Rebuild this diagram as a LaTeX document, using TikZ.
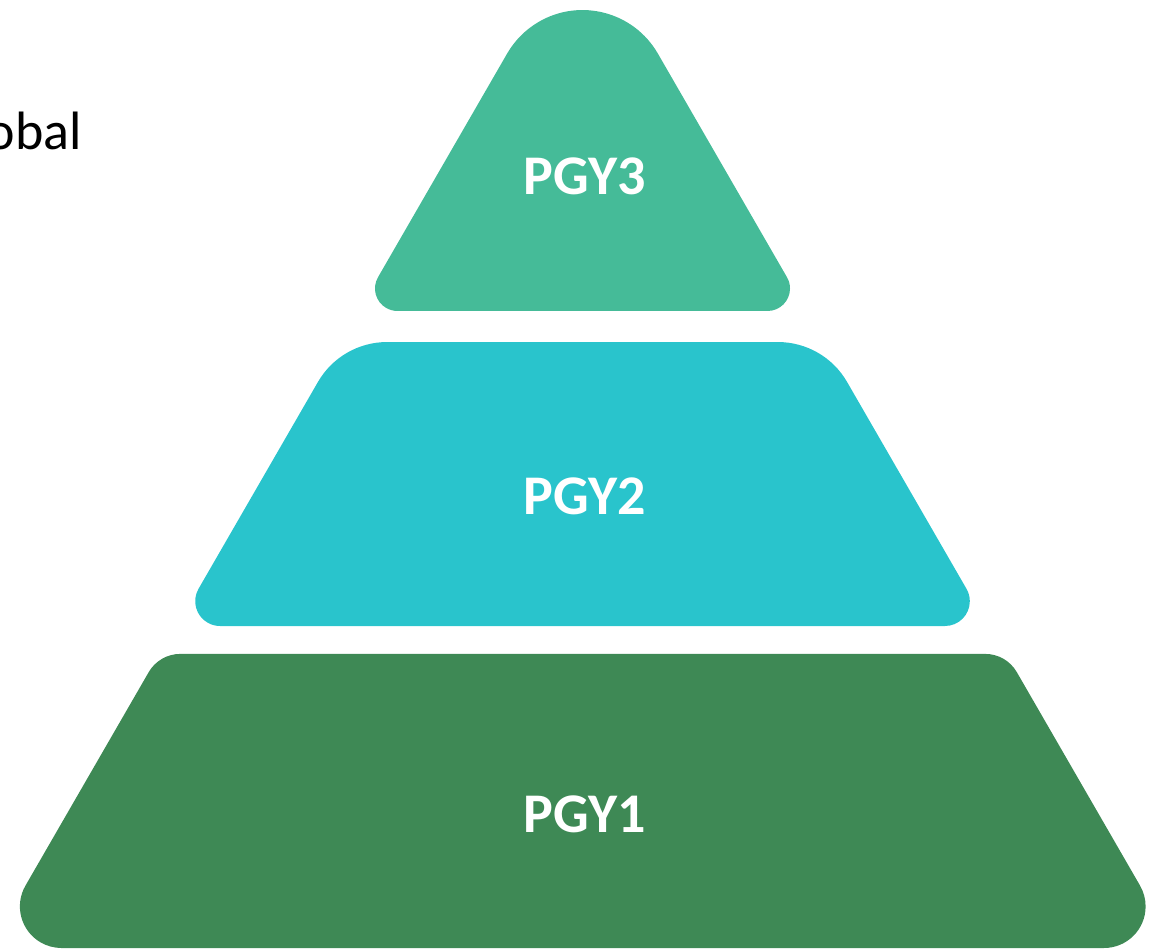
\documentclass[tikz,border=0pt]{standalone}
\usepackage{fontspec}
\setmainfont{Carlito}
\usetikzlibrary{positioning}
\definecolor{tierone}{RGB}{62,137,85}
\definecolor{tiertwo}{RGB}{41,196,204}
\definecolor{tierthree}{RGB}{69,187,152}
\tikzset{tierlabel/.style={text=white,font=\fontsize{56}{60}\selectfont\bfseries,anchor=base,inner sep=0pt}}

\begin{document}
\begin{tikzpicture}[x=1pt,y=1pt]
    \useasboundingbox (0,0) rectangle (1153,951);
    % top tier
    \fill[tierthree] (397.5,640) -- ++(370,0) arc[start angle=-90,end angle=30,radius=22.5]
        -- ++(120:258.3) arc[start angle=30,end angle=150,radius=87]
        -- ++(240:258.3) arc[start angle=150,end angle=270,radius=22.5] -- cycle;
    % middle tier
    \fill[tiertwo] (220,325) -- ++(725,0) arc[start angle=-90,end angle=30,radius=24.8]
        -- ++(120:238.9) arc[start angle=30,end angle=90,radius=79.7] -- ++(-391,0)
        arc[start angle=90,end angle=150,radius=79.7]
        -- ++(240:238.9) arc[start angle=150,end angle=270,radius=24.8] -- cycle;
    % bottom tier
    \fill[tierone] (61,3) -- ++(1043,0) arc[start angle=-90,end angle=30,radius=41.6]
        -- ++(120:246.5) arc[start angle=30,end angle=90,radius=36.4] -- ++(-805,0)
        arc[start angle=90,end angle=150,radius=36.4]
        -- ++(240:246.5) arc[start angle=150,end angle=270,radius=41.6] -- cycle;
    \node[tierlabel] (pgy3) at (585,756) {PGY3};
    \node[tierlabel] (pgy2) at (585,436) {PGY2};
    \node[tierlabel] (pgy1) at (585,119) {PGY1};
    \node[font=\fontsize{54}{60}\selectfont,anchor=base east,inner sep=0pt] (global) at (82,801) {obal};
\end{tikzpicture}
\end{document}
